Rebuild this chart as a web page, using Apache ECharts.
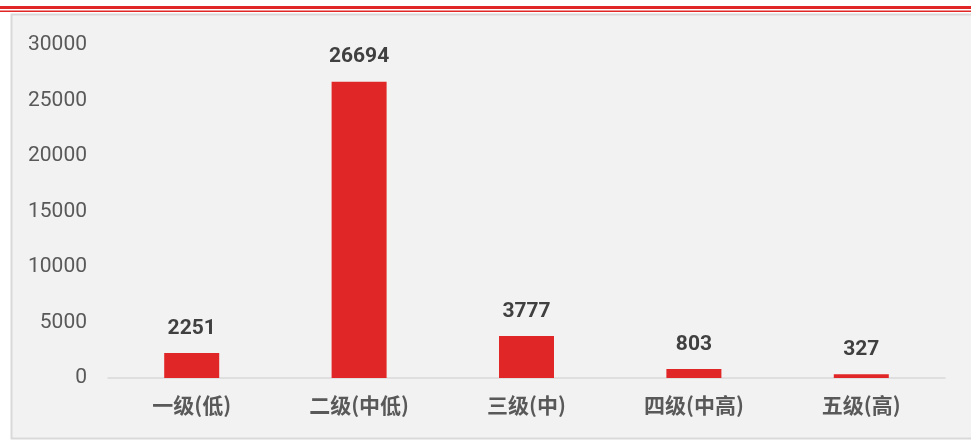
<!DOCTYPE html>
<html>
<head>
<meta charset="utf-8">
<script src="https://cdn.jsdelivr.net/npm/echarts@6/dist/echarts.min.js"></script>
<style>
html,body{margin:0;padding:0;background:#fff;}
#chartmain{width:971px;height:441px;}
</style>
</head>
<body>
<div id="chartmain"></div>
<script>
var categories=['一级(低)','二级(中低)','三级(中)','四级(中高)','五级(高)'];
var values=[2251,26694,3777,803,327];
var yTicks=[0,5000,10000,15000,20000,25000,30000];

var myChart=echarts.init(document.getElementById('chartmain'));
var option={
	backgroundColor:'#ffffff',
	animation:false,
	graphic:[
		{type:'rect',z:-10,shape:{x:0,y:6,width:971,height:3},style:{fill:'#e02626'}},
		{type:'rect',z:-10,shape:{x:0,y:10.5,width:971,height:1.5},style:{fill:'#e02626'}},
		{type:'rect',z:-10,shape:{x:11.5,y:14.5,width:980,height:424},style:{fill:'#f2f2f2',stroke:'#d9d9d9',lineWidth:2}}
	],
	grid:{left:108,right:26,top:45,bottom:63},
	xAxis:{
		type:'category',
		data:categories,
		axisLine:{lineStyle:{color:'#d9d9d9',width:1.5}},
		axisTick:{show:false},
		axisLabel:{
			color:'#595959',
			fontSize:21,
			fontWeight:'bold',
			fontFamily:'"Noto Sans CJK SC"',
			margin:17
		}
	},
	yAxis:{
		type:'value',
		min:yTicks[0],
		max:yTicks[yTicks.length-1],
		interval:yTicks[1]-yTicks[0],
		axisLine:{show:false},
		axisTick:{show:false},
		splitLine:{show:false},
		axisLabel:{
			color:'#595959',
			fontSize:21,
			fontFamily:'Roboto',
			margin:21,
			formatter:function(v){return String(v);}
		}
	},
	series:[{
		type:'bar',
		data:values,
		barWidth:55,
		itemStyle:{color:'#e02626'},
		label:{
			show:true,
			position:'top',
			distance:14,
			color:'#404040',
			fontSize:21,
			fontWeight:'bold',
			fontFamily:'Roboto'
		}
	}]
};
myChart.setOption(option);
</script>
</body>
</html>
